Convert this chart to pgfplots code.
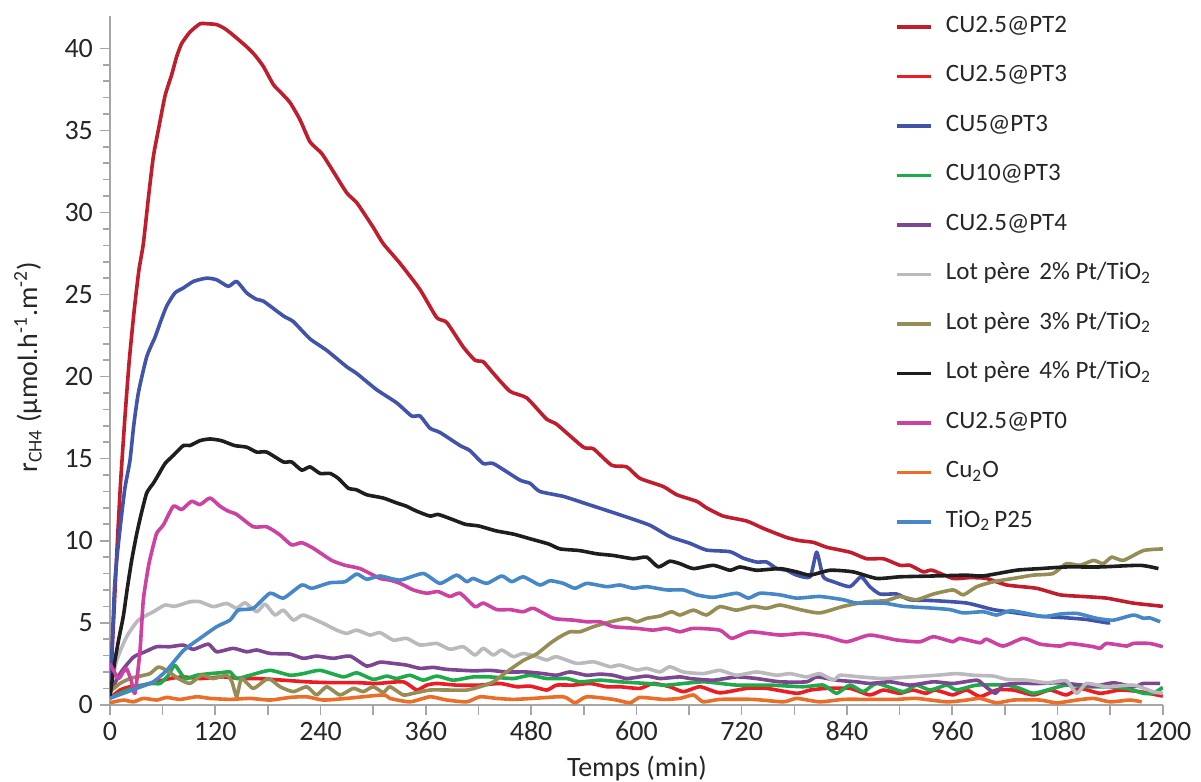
\documentclass[border=0pt]{standalone}
\usepackage{pgfplots}
\pgfplotsset{compat=1.18}
\usepackage{fontspec}
\setmainfont{Carlito}
\definecolor{cA}{RGB}{192,30,45}
\definecolor{cB}{RGB}{237,28,36}
\definecolor{cC}{RGB}{65,84,170}
\definecolor{cD}{RGB}{30,170,75}
\definecolor{cE}{RGB}{125,70,145}
\definecolor{cF}{RGB}{185,185,190}
\definecolor{cG}{RGB}{150,140,85}
\definecolor{cH}{RGB}{30,30,30}
\definecolor{cI}{RGB}{205,65,160}
\definecolor{cJ}{RGB}{235,110,40}
\definecolor{cK}{RGB}{70,135,200}
\definecolor{axgray}{RGB}{166,166,166}
\begin{document}
\begin{tikzpicture}
\begin{axis}[
  at={(55pt,38.6pt)}, anchor=south west,
  scale only axis, width=526.4pt, height=344.6pt,
  xmin=0, xmax=1200, ymin=0, ymax=42,
  axis x line=bottom, axis y line=left,
  axis line style={-, draw=axgray, line width=0.8pt},
  tick style={draw=axgray, line width=0.8pt},
  tick align=outside,
  major tick length=5pt, minor tick length=3.3pt,
  xtick={0,60,...,1200},
  xticklabels={0,,120,,240,,360,,480,,600,,720,,840,,960,,1080,,1200},
  ytick={0,5,...,40},
  minor y tick num=4,
  /pgf/number format/assume math mode=true,
  ticklabel style={font=\fontsize{14}{16}\selectfont, text=black!85},
  xlabel={Temps (min)},
  ylabel={r\textsubscript{CH4} (µmol.h\textsuperscript{-1}.m\textsuperscript{-2})},
  label style={font=\fontsize{14}{16}\selectfont, text=black!85},
  xlabel style={at={(axis description cs:0.5006,-0.092)}, anchor=center},
  ylabel style={at={(axis description cs:-0.078,0.49)}, anchor=center, rotate=0},
  legend style={draw=none, fill=none, at={(axis description cs:0.7456,1.0015)}, anchor=north west,
    inner sep=0pt, row sep=12.75pt, column sep=6.5pt,
    nodes={inner sep=0pt, text height=8.6pt, text depth=3.4pt},
    font=\fontsize{12.5}{14}\selectfont, text=black!85},
  legend cell align=left,
  legend image code/.code={\draw[#1] (0pt,0pt) -- (17pt,0pt);},
  every axis plot/.append style={line width=1.8pt, line join=round, smooth, tension=0.35},
]
\addplot[cA] coordinates {
(0,0.8) (4,5) (8,9.5) (12,13.5) (17,17.5) (22,21) (27.7,24.1) (33,26.5) (38,28.1) (44,31) (49.4,33.4) (55,35.0) (62.7,37.1) (70.3,38.4) (76,39.5) (81.7,40.3) (91.2,41.0) (102.6,41.5) (112,41.5) (121.6,41.45) (131,41.2) (140.6,40.8) (155.8,40.1) (165,39.6) (174.8,38.9) (186.2,37.8) (195,37.3) (205.2,36.7) (216.6,35.65) (228,34.3) (241.3,33.6) (254.5,32.5) (269.8,31.2) (281.2,30.6) (292.6,29.7) (300,29.1) (311.5,28.1) (330.6,26.9) (353.4,25.3) (372.4,23.6) (383.8,23.3) (402.7,21.8) (416,21.0) (425.5,20.9) (436.9,20.2) (456,19.1) (475,18.7) (497.8,17.4) (509,17.1) (539.5,15.7) (551,15.6) (571.8,14.6) (589,14.5) (604,13.8) (630.7,13.3) (646,12.8) (668.7,12.4) (680,12.0) (699,11.5) (725.7,11.2) (744.7,10.75) (771,10.2) (786.5,10.0) (801.7,9.9) (817,9.6) (843.5,9.3) (862.5,8.9) (881.5,8.9) (900.5,8.5) (912,8.5) (927,8.1) (937,8.2) (961,7.7) (980,7.75) (999,7.7) (1022,7.3) (1056,7.1) (1083,6.7) (1109,6.6) (1136,6.5) (1166,6.2) (1200,6.0)
};
\addlegendentry{CU2.5@PT2}
\addplot[cB] coordinates {
(0,0.4) (11.4,0.9) (22.8,1.1) (38,1.2) (53.2,1.4) (68.4,1.6) (83.6,1.7) (102.6,1.6) (129,1.7) (148.2,1.6) (167.2,1.6) (197.6,1.5) (224.2,1.4) (250.8,1.35) (281.2,1.35) (304,1.3) (334.3,1.4) (349.6,0.9) (361,1.2) (372.4,1.3) (395,1.2) (421.7,1.2) (444.5,1.3) (463.6,1.1) (478.7,1.14) (497.8,0.9) (509,1.2) (528,1.2) (547,1.3) (566.2,1.1) (581.3,1.1) (604,1.0) (619,1.3) (638,1.1) (653.5,0.8) (672.5,1.1) (695,0.73) (725.7,1.0) (748.5,1.0) (782.7,0.7) (798,0.9) (817,1.0) (843.5,1.0) (866,0.6) (881.5,0.9) (900,0.7) (915,0.9) (930,0.7) (940,0.9) (953.7,0.7) (961,0.6) (976.5,0.9) (991.7,0.5) (1010.6,0.9) (1029.6,0.9) (1052.5,0.6) (1071.5,0.9) (1090,0.6) (1105.6,1.0) (1128.5,0.7) (1151,0.9) (1174,0.8) (1200,0.53)
};
\addlegendentry{CU2.5@PT3}
\addplot[cC] coordinates {
(0,1.2) (2,3) (5,7) (7.6,8.8) (12,11) (17,13.2) (22.8,14.9) (27,17) (32.3,19.0) (41.8,21.2) (51.3,22.4) (58,23.4) (64.6,24.3) (74,25.1) (83.6,25.4) (95,25.8) (110,26.0) (121.6,25.9) (134.8,25.5) (144.4,25.8) (155.8,25.1) (167.2,24.7) (174.8,24.6) (197.6,23.7) (209,23.35) (228,22.3) (247,21.6) (269.8,20.6) (281,20.2) (304,19.2) (326.8,18.4) (343.9,17.6) (353.4,17.6) (364.8,16.85) (376,16.6) (399,15.8) (410,15.5) (425.5,14.7) (437,14.7) (467,13.7) (478.7,13.5) (490,13.0) (516.7,12.7) (540,12.3) (580,11.6) (615,10.95) (638,10.25) (661,9.84) (680,9.43) (706.7,9.33) (722,8.93) (737,8.7) (748.5,8.7) (760,8.3) (771,8.2) (782.7,7.9) (798,7.8) (805.5,9.3) (813,7.8) (824.5,7.5) (843.5,7.2) (856,7.8) (866,7.2) (877.7,6.75) (896.7,6.75) (912,6.4) (938.5,6.35) (976.5,6.2) (1006.8,5.8) (1033,5.6) (1060,5.4) (1090,5.3) (1113,5.2) (1136,5.0) (1140,5.0)
};
\addlegendentry{CU5@PT3}
\addplot[cD] coordinates {
(0,0.4) (15.2,0.8) (30.4,1.1) (45.6,1.3) (57,1.3) (66.5,1.8) (74,2.4) (85.5,1.6) (98.8,1.8) (114,1.9) (125.4,1.95) (136.8,2.0) (144.4,1.6) (159.6,1.8) (182.4,2.1) (205.2,1.8) (220.3,1.9) (239.4,2.1) (266,1.7) (281.2,1.95) (300,1.55) (315.4,1.75) (326.8,1.6) (342,1.8) (357,1.5) (372.4,1.75) (391.3,1.5) (414,1.7) (433,1.7) (459.7,1.6) (478.7,1.8) (497.8,1.6) (520.6,1.6) (535.7,1.4) (558.5,1.5) (581.3,1.4) (611.7,1.3) (634.5,1.2) (676,1.4) (714,1.2) (752,1.2) (790,1.1) (813,1.2) (828,0.7) (843.5,1.2) (858.7,0.8) (874,1.3) (904,0.8) (919,1.2) (934.7,0.9) (953.7,1.2) (965,0.9) (988,1.2) (1022,1.2) (1037,1.0) (1052.5,0.7) (1075,1.0) (1090,1.2) (1113,1.1) (1136,1.1) (1159,1.0) (1178,0.7) (1189,0.7) (1200,1.06)
};
\addlegendentry{CU10@PT3}
\addplot[cE] coordinates {
(0,0.7) (11.4,1.9) (26.6,2.9) (39.9,3.23) (53.2,3.54) (68.4,3.54) (83.6,3.64) (95,3.38) (112,3.7) (121.6,3.23) (140.5,3.44) (155.8,3.23) (167.2,3.34) (182.4,3.13) (205.2,3.09) (220.3,2.83) (235.6,2.97) (254.5,2.83) (273.6,2.97) (292.6,2.36) (307.8,2.6) (323,2.52) (338,2.42) (353.4,2.22) (368.5,2.28) (383.8,2.16) (414,2.07) (433,2.1) (452,2.0) (474.8,2.0) (494,1.9) (509,1.8) (524.3,2.0) (543.4,1.8) (558.5,1.87) (573.7,1.8) (589,1.6) (611.7,1.75) (627,1.6) (649.7,1.7) (661,1.6) (687.7,1.5) (714,1.7) (737,1.6) (763.7,1.4) (794,1.4) (805.5,1.7) (828,1.5) (851,1.4) (866,1.3) (889,1.4) (912,1.2) (938.5,1.4) (961,1.3) (988,1.5) (996,1.2) (1009,0.7) (1018,1.2) (1033,1.3) (1060,1.3) (1083,1.34) (1121,1.14) (1144,1.34) (1166.6,1.1) (1178,1.3) (1197,1.3)
};
\addlegendentry{CU2.5@PT4}
\addplot[cF] coordinates {
(0,0.9) (7.6,2.7) (19,4.15) (32.3,5.16) (49.4,5.67) (62.7,6.08) (74,6.0) (91.2,6.28) (102.6,6.28) (117.8,5.98) (133,6.18) (144.4,5.88) (153.9,6.22) (167.2,5.67) (176.7,6.14) (188,5.47) (197.6,5.77) (209,5.16) (220.3,5.47) (243.1,4.96) (258.3,4.55) (269.8,4.35) (281.2,4.55) (296.4,4.25) (307.8,4.4) (323,3.94) (338.2,4.05) (353.4,3.64) (372.4,3.74) (387.5,3.38) (402.7,3.54) (416,3.03) (425.5,3.44) (437,3.03) (446.5,3.34) (459.7,2.93) (471,3.13) (486.4,2.93) (497.8,2.73) (509,2.93) (532,2.52) (551,2.62) (570,2.32) (581.3,2.42) (600.4,2.12) (611.7,2.22) (627,2.0) (638,2.32) (653.5,2.0) (676,1.9) (695,2.1) (714,1.8) (737,2.0) (760,1.8) (775,1.9) (794,1.7) (809,1.9) (824.5,1.5) (832,1.8) (855,1.7) (881.5,1.6) (912,1.7) (942,1.8) (965,1.9) (984,1.8) (1007,1.75) (1022,1.55) (1045,1.5) (1068,1.34) (1090,1.46) (1102,0.7) (1113,1.3) (1136,1.1) (1166.6,1.2) (1189,0.8) (1200,0.7)
};
\addlegendentry{Lot père\hspace{0.37em}2\% Pt/TiO\textsubscript{2}}
\addplot[cG] coordinates {
(0,0.8) (11.4,1.3) (22.8,1.6) (34.2,1.75) (45.6,1.9) (55,2.3) (64.6,2.1) (77.8,1.6) (91.2,1.3) (104.5,1.8) (117.8,1.6) (133,1.8) (139,1.4) (144.4,0.5) (150,1.6) (163.3,1.0) (180.4,1.6) (193.8,1.1) (209,0.8) (224.2,1.1) (235.6,0.6) (247,1.1) (262.2,0.6) (277.3,1.0) (288.7,0.8) (300,1.1) (311.5,0.75) (319,1.1) (334.3,0.6) (345.7,0.7) (364.8,0.9) (383.8,0.9) (406.6,0.9) (421.7,1.1) (437,1.4) (452,2.0) (471,2.7) (486.4,3.1) (501.5,3.74) (513,4.15) (524.3,4.45) (535.7,4.45) (551,4.76) (566.2,5.0) (589,5.27) (600.4,5.06) (611.7,5.27) (627,5.41) (640,5.67) (649.7,5.47) (665,5.77) (680,5.47) (695,5.98) (714,5.77) (733,6.0) (748.5,5.88) (763.7,6.08) (786.5,5.8) (809,5.6) (836,6.0) (862.5,6.28) (885,6.35) (900.5,6.6) (919,6.4) (938.5,6.75) (961,7.0) (972.6,6.7) (988,7.2) (1007,7.5) (1029.6,7.7) (1052,7.9) (1075,8.0) (1090,8.6) (1105.6,8.5) (1121,8.8) (1132,8.6) (1141.8,9.0) (1155,8.8) (1178,9.4) (1200,9.5)
};
\addlegendentry{Lot père\hspace{0.37em}3\% Pt/TiO\textsubscript{2}}
\addplot[cH] coordinates {
(0,0.5) (5,2.5) (10,4) (15.2,5.4) (20,7.2) (24.7,8.8) (30,10.3) (35,11.5) (41.8,12.9) (49.4,13.5) (55,14.0) (62.7,14.7) (72.2,15.2) (83.6,15.8) (91.2,15.8) (102.6,16.1) (114,16.2) (126.8,16.1) (142,15.8) (155.8,15.7) (167.2,15.4) (178.6,15.4) (197.6,14.8) (207,14.8) (218.5,14.3) (228,14.5) (239.4,14.1) (250.8,14.1) (260.2,13.8) (271.6,13.2) (281,13.1) (292.6,12.8) (311.5,12.6) (326.8,12.3) (338,12.1) (349.6,11.8) (364.8,11.5) (374,11.6) (390,11.3) (405,11.0) (420,10.9) (440,10.6) (460,10.4) (480,10.1) (500,9.8) (513,9.5) (535,9.4) (555,9.2) (573.7,9.1) (596.5,8.9) (611.7,9.0) (625,8.4) (638,8.75) (649.7,8.6) (665,8.3) (687.7,8.5) (706.7,8.2) (718,8.4) (737,8.2) (763.7,8.3) (782.7,8.1) (798,7.9) (820.7,8.2) (847,8.1) (874,7.7) (900.5,7.8) (938.5,7.85) (976.5,7.9) (995,7.85) (1033,8.2) (1060,8.3) (1090,8.4) (1128,8.4) (1174,8.5) (1195,8.3)
};
\addlegendentry{Lot père\hspace{0.37em}4\% Pt/TiO\textsubscript{2}}
\addplot[cI] coordinates {
(0,2.5) (9.5,1.6) (15,2.0) (19,2.2) (24,1.5) (28.5,0.7) (34.2,3.3) (38,6.4) (43.7,8.4) (47,9.2) (53.2,10.45) (60.8,10.96) (72.2,12.1) (81.7,11.9) (93,12.4) (102.6,12.2) (114,12.6) (125.4,12.1) (134.8,11.8) (144.4,11.6) (163.3,10.85) (178.6,10.85) (193.8,10.35) (207,9.74) (218.5,9.88) (231.7,9.54) (252.7,8.8) (268,8.5) (285,8.3) (307.8,7.7) (319,7.6) (330.6,7.4) (345.7,7.0) (361,6.8) (374,6.9) (387.5,6.6) (399,6.8) (416,5.98) (425.5,6.2) (440.8,5.8) (456,5.8) (471,5.67) (482.7,5.88) (505.5,5.27) (528,5.16) (543.4,5.06) (558.5,5.06) (573.7,4.76) (600,4.66) (619,4.55) (634.5,4.66) (649.7,4.45) (665,4.66) (695,4.55) (708.6,4.05) (729.5,4.45) (763.7,4.25) (790,4.35) (817,4.15) (839.7,3.84) (866,4.25) (896.7,3.95) (923,3.84) (938.5,4.15) (961,3.84) (968,4.05) (991.7,3.78) (999,4.0) (1018,3.58) (1041,4.05) (1060,3.7) (1083,3.58) (1094,3.74) (1121,3.54) (1128.5,3.44) (1136,3.74) (1159,3.58) (1166,3.74) (1185,3.74) (1200,3.54)
};
\addlegendentry{CU2.5@PT0}
\addplot[cJ] coordinates {
(0,0.12) (15.2,0.29) (26.6,0.18) (38,0.39) (53.2,0.29) (64.6,0.45) (79.8,0.33) (98.8,0.49) (114,0.39) (136.8,0.33) (159.6,0.39) (182.4,0.29) (205.2,0.45) (224.2,0.49) (243,0.29) (269.8,0.39) (311.5,0.6) (319,0.39) (342,0.18) (364.8,0.49) (383.8,0.29) (406.6,0.18) (421.7,0.49) (440.8,0.39) (459.7,0.33) (482.5,0.39) (516.7,0.49) (530,0.12) (543.4,0.49) (573.7,0.33) (592.7,0.12) (604,0.45) (630.7,0.33) (649.7,0.39) (665,0.6) (676,0.18) (695,0.33) (733,0.33) (767.5,0.18) (782.7,0.39) (809,0.18) (836,0.33) (866,0.33) (896.7,0.33) (919,0.39) (953.7,0.18) (976.5,0.29) (991.7,0.39) (1010.6,0.12) (1029.6,0.29) (1060,0.29) (1079,0.12) (1102,0.29) (1121,0.39) (1140,0.18) (1162.6,0.29) (1176,0.18)
};
\addlegendentry{Cu\textsubscript{2}O}
\addplot[cK] coordinates {
(0,0.4) (15.2,0.7) (30.4,1.0) (49.4,1.4) (64.6,2.1) (83.6,3.3) (102.6,4.05) (121.6,4.76) (136.8,5.16) (146.2,5.77) (163.3,5.88) (182.4,6.8) (197.6,6.5) (218.5,7.3) (229.9,7.1) (250.8,7.44) (267.9,7.5) (281.2,7.97) (292.6,7.65) (307.8,7.85) (330.6,7.6) (357,8.0) (376,7.4) (395,7.9) (406.6,7.5) (414,7.7) (429.4,7.4) (446.5,7.85) (458,7.5) (471,7.8) (490,7.3) (501.5,7.56) (516.7,7.4) (530,7.1) (543.4,7.4) (566.2,7.2) (581.3,7.3) (596.5,7.1) (611.7,7.2) (634.5,7.0) (653.5,7.0) (668.7,6.7) (687.7,6.55) (714.3,6.8) (727.6,6.5) (741,6.8) (763.7,6.7) (782.7,6.5) (809,6.6) (836,6.4) (851,6.2) (881.5,6.2) (904,6.0) (934.7,5.9) (957.5,5.8) (972.6,5.6) (995.5,5.67) (1010.6,5.47) (1026,5.73) (1045,5.57) (1064,5.37) (1083,5.53) (1102,5.57) (1124.7,5.27) (1143.7,5.16) (1166.6,5.47) (1178,5.27) (1185,5.3) (1197,5.06)
};
\addlegendentry{TiO\textsubscript{2}\,P25}
\end{axis}
\pgfresetboundingbox
\useasboundingbox (0,0) rectangle (600.5pt,391pt);
\end{tikzpicture}
\end{document}
